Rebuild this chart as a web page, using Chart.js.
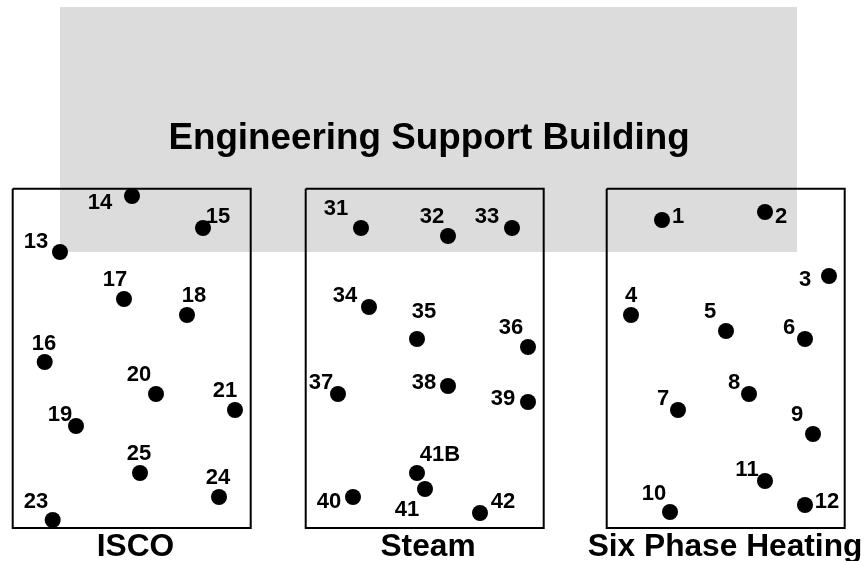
<!DOCTYPE html>
<html>
<head>
<meta charset="utf-8">
<title>Well layout</title>
<script src="https://cdn.jsdelivr.net/npm/chart.js@4"></script>
<style>
    html, body { margin: 0; padding: 0; background: #fff; }
    canvas { display: block; }
</style>
</head>
<body>
<canvas id="siteMap" width="864" height="561"></canvas>
<script>
// Well locations
const iscoWells = ['13', '14', '15', '16', '17', '18', '19', '20', '21', '23', '24', '25'];
const iscoX = [60, 132, 203, 44.7, 124, 187, 76, 156, 235, 52.7, 219, 140];
const iscoY = [252, 196, 228, 362, 299, 315, 426, 394, 410, 520, 497, 473];

const steamWells = ['31', '32', '33', '34', '35', '36', '37', '38', '39', '40', '41', '41B', '42'];
const steamX = [361, 448, 512, 369, 417, 528, 338, 448, 528, 353, 425, 417, 480];
const steamY = [228, 236, 228, 307, 339, 347, 394, 386, 402, 497, 489, 473, 513];

const sixPhaseWells = ['1', '2', '3', '4', '5', '6', '7', '8', '9', '10', '11', '12'];
const sixPhaseX = [662, 765, 829, 631, 726, 805, 678, 749, 813, 670, 765, 805];
const sixPhaseY = [220, 212, 276, 315, 331, 339, 410, 394, 434, 512, 481, 505];

// Outlines of the three plots and the building
const plotNames = ['ISCO', 'Steam', 'Six Phase Heating'];
const plotLeft = [12.7, 305.7, 606.7];
const plotRight = [250.7, 543.7, 844.7];
const plotTop = 188.7;
const plotBottom = 528;
const buildingName = 'Engineering Support Building';
const buildingX = [60, 797];
const buildingTop = 7;
const buildingBottom = 252;

// Where each number sits, same units as the wells
const wellLabelAt = {
    '13': [36, 241], '14': [100, 202], '15': [218, 216], '16': [44, 343],
    '17': [115, 279], '18': [194, 295], '19': [60, 414], '20': [139, 374],
    '21': [225, 390], '23': [36, 501], '24': [218, 477], '25': [139, 453],
    '31': [336, 208], '32': [432, 216], '33': [487, 216], '34': [345, 295],
    '35': [424, 311], '36': [511, 327], '37': [321, 382], '38': [424, 382],
    '39': [503, 398], '40': [329, 501], '41': [407, 509], '41B': [440, 454],
    '42': [503, 501],
    '1': [678, 216], '2': [781, 216], '3': [805, 279], '4': [631, 295],
    '5': [710, 311], '6': [789, 327], '7': [663, 398], '8': [734, 382],
    '9': [797, 414], '10': [654, 493], '11': [747, 469], '12': [827, 501]
};
const plotLabelAt = [[135.5, 555.5], [428, 555.5], [725, 555.5]];
const buildingLabelAt = [429, 149];

const FONT = '"Liberation Sans", Arial, sans-serif';

function wellDataset(xs, ys) {
    return {
        data: xs.map((x, i) => ({ x: x, y: ys[i] })),
        showLine: false,
        pointRadius: 8,
        pointBorderWidth: 0,
        pointBackgroundColor: '#000',
        order: 1
    };
}

function outlineDataset(i) {
    return {
        data: [
            { x: plotLeft[i], y: plotTop },
            { x: plotRight[i], y: plotTop },
            { x: plotRight[i], y: plotBottom },
            { x: plotLeft[i], y: plotBottom },
            { x: plotLeft[i], y: plotTop }
        ],
        showLine: true,
        borderColor: '#000',
        borderWidth: 2,
        pointRadius: 0,
        fill: false,
        order: 2
    };
}

const buildingDataset = {
    data: [{ x: buildingX[0], y: buildingBottom }, { x: buildingX[1], y: buildingBottom }],
    showLine: true,
    borderWidth: 0,
    pointRadius: 0,
    fill: { value: buildingTop },
    backgroundColor: '#dcdcdc',
    order: 3
};

// Numbers and captions go on top of everything
const textPlugin = {
    id: 'mapText',
    afterDatasetsDraw(chart) {
        const ctx = chart.ctx;
        const xs = chart.scales.x;
        const ys = chart.scales.y;
        ctx.save();
        ctx.fillStyle = '#000';
        ctx.textAlign = 'center';
        ctx.textBaseline = 'alphabetic';

        ctx.font = 'bold 22px ' + FONT;
        Object.keys(wellLabelAt).forEach(name => {
            const at = wellLabelAt[name];
            ctx.fillText(name, xs.getPixelForValue(at[0]), ys.getPixelForValue(at[1]) + 7);
        });

        ctx.font = 'bold 31.7px ' + FONT;
        plotNames.forEach((name, i) => {
            ctx.fillText(name, xs.getPixelForValue(plotLabelAt[i][0]), ys.getPixelForValue(plotLabelAt[i][1]));
        });

        ctx.font = 'bold 36.8px ' + FONT;
        ctx.fillText(buildingName, xs.getPixelForValue(buildingLabelAt[0]), ys.getPixelForValue(buildingLabelAt[1]));
        ctx.restore();
    }
};

new Chart(document.getElementById('siteMap'), {
    type: 'scatter',
    data: {
        datasets: [
            wellDataset(iscoX, iscoY),
            wellDataset(steamX, steamY),
            wellDataset(sixPhaseX, sixPhaseY),
            outlineDataset(0),
            outlineDataset(1),
            outlineDataset(2),
            buildingDataset
        ]
    },
    options: {
        responsive: false,
        animation: false,
        clip: false,
        layout: { padding: 0, autoPadding: false },
        plugins: {
            legend: { display: false },
            title: { display: false },
            tooltip: { enabled: false }
        },
        scales: {
            x: { type: 'linear', display: false, min: 0, max: 864 },
            y: { type: 'linear', display: false, min: 0, max: 561, reverse: true }
        }
    },
    plugins: [textPlugin]
});
</script>
</body>
</html>
